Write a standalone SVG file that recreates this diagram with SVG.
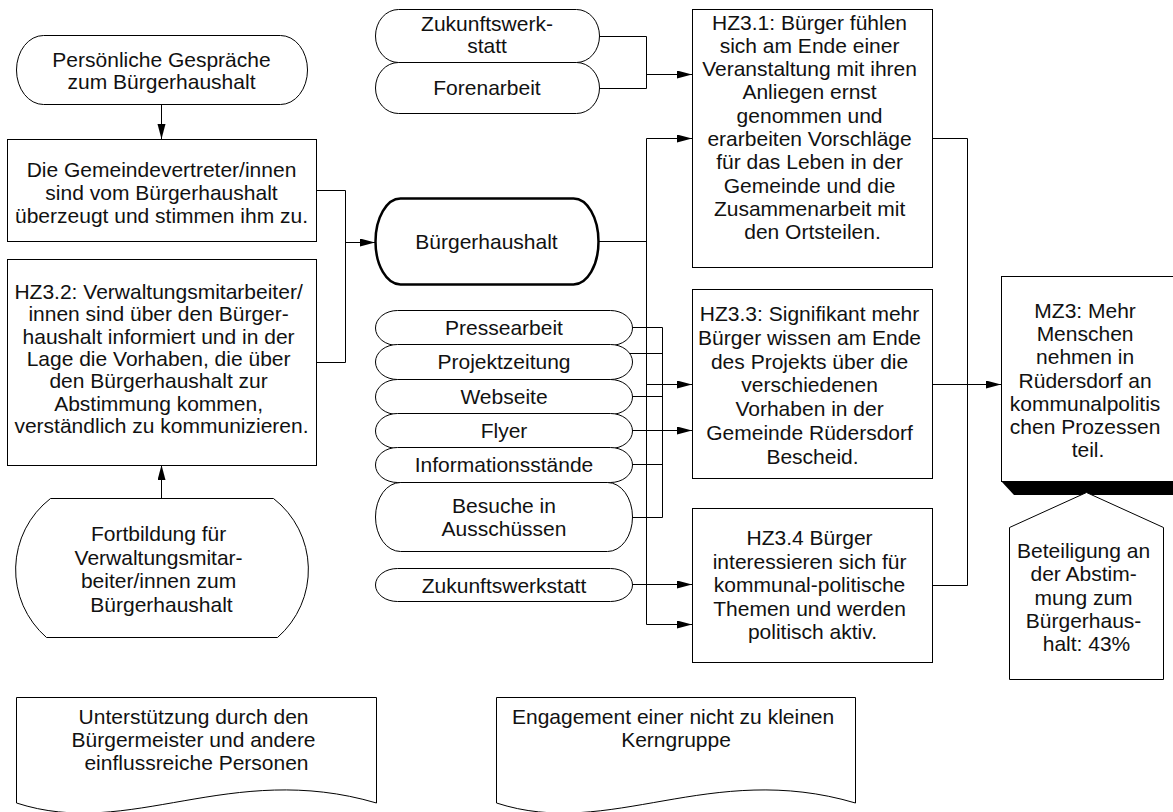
<svg xmlns="http://www.w3.org/2000/svg" width="1173" height="812" viewBox="0 0 1173 812">
  <style>
    .shape { fill: #fff; stroke: #000; stroke-width: 1; }
    .bold { fill: #fff; stroke: #000; stroke-width: 2.5; }
    .line { fill: none; stroke: #000; stroke-width: 1; }
    .t { font-family: "Liberation Sans", Arial, sans-serif; font-size: 21px; fill: #111; text-anchor: middle; }
  </style>
  <defs>
    <marker id="arrow" markerUnits="userSpaceOnUse" markerWidth="16" markerHeight="9" refX="15" refY="4" orient="auto">
      <path d="M0,0 L15,4 L0,8 Z" fill="#000"/>
    </marker>
  </defs>

  <rect width="1173" height="812" fill="#fff"/>

  <!-- connectors -->
  <g id="connectors">
    <path class="line" d="M161.5,104 V139" marker-end="url(#arrow)"/>
    <path class="line" d="M161.5,498 V465" marker-end="url(#arrow)"/>
    <path class="line" d="M316,190.5 H345.5 V362.5 H316"/>
    <path class="line" d="M345.5,242.5 H375" marker-end="url(#arrow)"/>
    <path class="line" d="M599,36.5 H646.5 V88.5 H599"/>
    <path class="line" d="M646.5,74.5 H692" marker-end="url(#arrow)"/>
    <path class="line" d="M598,241.5 H646.5"/>
    <path class="line" d="M646.5,138.5 V624.5"/>
    <path class="line" d="M646.5,138.5 H692" marker-end="url(#arrow)"/>
    <path class="line" d="M646.5,384.5 H692" marker-end="url(#arrow)"/>
    <path class="line" d="M646.5,624.5 H692" marker-end="url(#arrow)"/>
    <path class="line" d="M632,327.5 H662.5 V517.5 H632"/>
    <path class="line" d="M630,353.5 H662.5"/>
    <path class="line" d="M632,396.5 H662.5"/>
    <path class="line" d="M632,464.5 H662.5"/>
    <path class="line" d="M632,430.5 H692" marker-end="url(#arrow)"/>
    <path class="line" d="M632,584.5 H692" marker-end="url(#arrow)"/>
    <path class="line" d="M932,138.5 H967.5 V585.5 H932"/>
    <path class="line" d="M932,384.5 H1001" marker-end="url(#arrow)"/>
  </g>

  <!-- Persoenliche Gespraeche -->
  <g id="n-gespraeche">
    <path class="shape" d="M43.5,35.5 H280.5 A27,34.5 0 0 1 280.5,104.5 H43.5 A27,34.5 0 0 1 43.5,35.5 Z"/>
    <text class="t"><tspan x="161.5" y="66.5">Persönliche Gespräche</tspan><tspan x="161.5" y="89">zum Bürgerhaushalt</tspan></text>
  </g>

  <g id="n-gemeinde">
    <rect class="shape" x="7.5" y="139.5" width="309" height="102"/>
    <text class="t"><tspan x="161.5" y="176.5">Die Gemeindevertreter/innen</tspan><tspan x="161.5" y="199.5">sind vom Bürgerhaushalt</tspan><tspan x="161.5" y="222.5">überzeugt und stimmen ihm zu.</tspan></text>
  </g>

  <g id="n-hz32">
    <rect class="shape" x="7.5" y="259.5" width="309" height="206"/>
    <text class="t">
      <tspan x="161.5" y="299">HZ3.2: Verwaltungsmitarbeiter/</tspan>
      <tspan x="161.5" y="321.3">innen sind über den Bürger-</tspan>
      <tspan x="161.5" y="343.7">haushalt informiert und in der</tspan>
      <tspan x="161.5" y="366">Lage die Vorhaben, die über</tspan>
      <tspan x="161.5" y="388.3">den Bürgerhaushalt zur</tspan>
      <tspan x="161.5" y="410.7">Abstimmung kommen,</tspan>
      <tspan x="161.5" y="433">verständlich zu kommunizieren.</tspan>
    </text>
  </g>

  <g id="n-fortbildung">
    <path class="shape" d="M50.5,498.5 H273.5 A90,90 0 0 1 277.5,637.5 H46.5 A90,90 0 0 1 50.5,498.5 Z"/>
    <text class="t">
      <tspan x="161.5" y="541">Fortbildung für</tspan>
      <tspan x="161.5" y="564.5">Verwaltungsmitar-</tspan>
      <tspan x="161.5" y="588">beiter/innen zum</tspan>
      <tspan x="161.5" y="611.5">Bürgerhaushalt</tspan>
    </text>
  </g>

  <g id="n-zukunft1">
    <path class="shape" d="M398.5,9.5 H576.5 A23,26.5 0 0 1 576.5,62.5 H398.5 A23,26.5 0 0 1 398.5,9.5 Z"/>
    <text class="t"><tspan x="487" y="30.5">Zukunftswerk-</tspan><tspan x="487" y="53">statt</tspan></text>
  </g>

  <g id="n-foren">
    <path class="shape" d="M398.5,62.5 H576.5 A23,25.5 0 0 1 576.5,113.5 H398.5 A23,25.5 0 0 1 398.5,62.5 Z"/>
    <text class="t" x="487" y="95">Forenarbeit</text>
  </g>

  <g id="n-hz31">
    <rect class="shape" x="692.5" y="9.5" width="240" height="258"/>
    <text class="t">
      <tspan x="812.5" y="29.5">HZ3.1: Bürger fühlen</tspan>
      <tspan x="812.5" y="52.8">sich am Ende einer</tspan>
      <tspan x="812.5" y="76.1">Veranstaltung mit ihren</tspan>
      <tspan x="812.5" y="99.4">Anliegen ernst</tspan>
      <tspan x="812.5" y="122.7">genommen und</tspan>
      <tspan x="812.5" y="146">erarbeiten Vorschläge</tspan>
      <tspan x="812.5" y="169.3">für das Leben in der</tspan>
      <tspan x="812.5" y="192.6">Gemeinde und die</tspan>
      <tspan x="812.5" y="215.9">Zusammenarbeit mit</tspan>
      <tspan x="812.5" y="239.2">den Ortsteilen.</tspan>
    </text>
  </g>

  <g id="n-buergerhaushalt">
    <path class="bold" d="M400.5,198.5 H573.5 A25,43 0 0 1 573.5,284.5 H400.5 A25,43 0 0 1 400.5,198.5 Z"/>
    <text class="t" x="486.5" y="249">Bürgerhaushalt</text>
  </g>

  <g id="n-presse">
    <path class="shape" d="M397.5,310.5 H610.5 A22,17.5 0 0 1 610.5,345.5 H397.5 A22,17.5 0 0 1 397.5,310.5 Z"/>
    <text class="t" x="504" y="335">Pressearbeit</text>
  </g>
  <g id="n-projektzeitung">
    <path class="shape" d="M397.5,344.5 H610.5 A22,17.5 0 0 1 610.5,379.5 H397.5 A22,17.5 0 0 1 397.5,344.5 Z"/>
    <text class="t" x="504" y="369">Projektzeitung</text>
  </g>
  <g id="n-webseite">
    <path class="shape" d="M397.5,379.5 H610.5 A22,17.5 0 0 1 610.5,414.5 H397.5 A22,17.5 0 0 1 397.5,379.5 Z"/>
    <text class="t" x="504" y="404">Webseite</text>
  </g>
  <g id="n-flyer">
    <path class="shape" d="M397.5,413.5 H610.5 A22,17.5 0 0 1 610.5,448.5 H397.5 A22,17.5 0 0 1 397.5,413.5 Z"/>
    <text class="t" x="504" y="438">Flyer</text>
  </g>
  <g id="n-infostaende">
    <path class="shape" d="M397.5,447.5 H610.5 A22,17.5 0 0 1 610.5,482.5 H397.5 A22,17.5 0 0 1 397.5,447.5 Z"/>
    <text class="t" x="504" y="472">Informationsstände</text>
  </g>
  <g id="n-besuche">
    <path class="shape" d="M400.5,482.5 H607.5 A25,34.5 0 0 1 607.5,551.5 H400.5 A25,34.5 0 0 1 400.5,482.5 Z"/>
    <text class="t"><tspan x="504" y="513">Besuche in</tspan><tspan x="504" y="536">Ausschüssen</tspan></text>
  </g>
  <g id="n-zukunft2">
    <path class="shape" d="M397.5,568.5 H610.5 A22,16.5 0 0 1 610.5,601.5 H397.5 A22,16.5 0 0 1 397.5,568.5 Z"/>
    <text class="t" x="504" y="592.5">Zukunftswerkstatt</text>
  </g>

  <g id="n-hz33">
    <rect class="shape" x="692.5" y="289.5" width="240" height="189"/>
    <text class="t">
      <tspan x="812.5" y="320.7">HZ3.3: Signifikant mehr</tspan>
      <tspan x="812.5" y="344.6">Bürger wissen am Ende</tspan>
      <tspan x="812.5" y="368.5">des Projekts über die</tspan>
      <tspan x="812.5" y="392.4">verschiedenen</tspan>
      <tspan x="812.5" y="416.2">Vorhaben in der</tspan>
      <tspan x="812.5" y="440.1">Gemeinde Rüdersdorf</tspan>
      <tspan x="812.5" y="464">Bescheid.</tspan>
    </text>
  </g>

  <g id="n-hz34">
    <rect class="shape" x="692.5" y="508.5" width="240" height="154"/>
    <text class="t">
      <tspan x="812.5" y="545">HZ3.4 Bürger</tspan>
      <tspan x="812.5" y="568.5">interessieren sich für</tspan>
      <tspan x="812.5" y="592">kommunal-politische</tspan>
      <tspan x="812.5" y="615.5">Themen und werden</tspan>
      <tspan x="812.5" y="639">politisch aktiv.</tspan>
    </text>
  </g>

  <g id="n-mz3">
    <polygon points="1001,481 1180,481 1180,495 1014,495" fill="#000"/>
    <rect class="shape" x="1001.5" y="276.5" width="180" height="205"/>
    <text class="t">
      <tspan x="1088" y="318.3">MZ3: Mehr</tspan>
      <tspan x="1088" y="341.4">Menschen</tspan>
      <tspan x="1088" y="364.4">nehmen in</tspan>
      <tspan x="1088" y="387.5">Rüdersdorf an</tspan>
      <tspan x="1088" y="410.6">kommunalpolitis</tspan>
      <tspan x="1088" y="433.7">chen Prozessen</tspan>
      <tspan x="1088" y="456.7">teil.</tspan>
    </text>
  </g>

  <g id="n-indikator">
    <polygon class="shape" points="1086.5,492.5 1163.5,527.5 1163.5,679.5 1009.5,679.5 1009.5,527.5"/>
    <text class="t">
      <tspan x="1086.5" y="558">Beteiligung an</tspan>
      <tspan x="1086.5" y="581.3">der Abstim-</tspan>
      <tspan x="1086.5" y="604.6">mung zum</tspan>
      <tspan x="1086.5" y="627.9">Bürgerhaus-</tspan>
      <tspan x="1086.5" y="651.2">halt: 43%</tspan>
    </text>
  </g>

  <g id="n-unterstuetzung">
    <path class="shape" d="M16.5,697.5 H376.5 V803 C230,760 130,840 16.5,803 Z"/>
    <text class="t">
      <tspan x="196.5" y="724">Unterstützung durch den</tspan>
      <tspan x="196.5" y="747">Bürgermeister und andere</tspan>
      <tspan x="196.5" y="770">einflussreiche Personen</tspan>
    </text>
  </g>

  <g id="n-engagement">
    <path class="shape" d="M496.5,697.5 H855.5 V803 C710,760 610,840 496.5,803 Z"/>
    <text class="t">
      <tspan x="676" y="724">Engagement einer nicht zu kleinen</tspan>
      <tspan x="676" y="747">Kerngruppe</tspan>
    </text>
  </g>
</svg>
